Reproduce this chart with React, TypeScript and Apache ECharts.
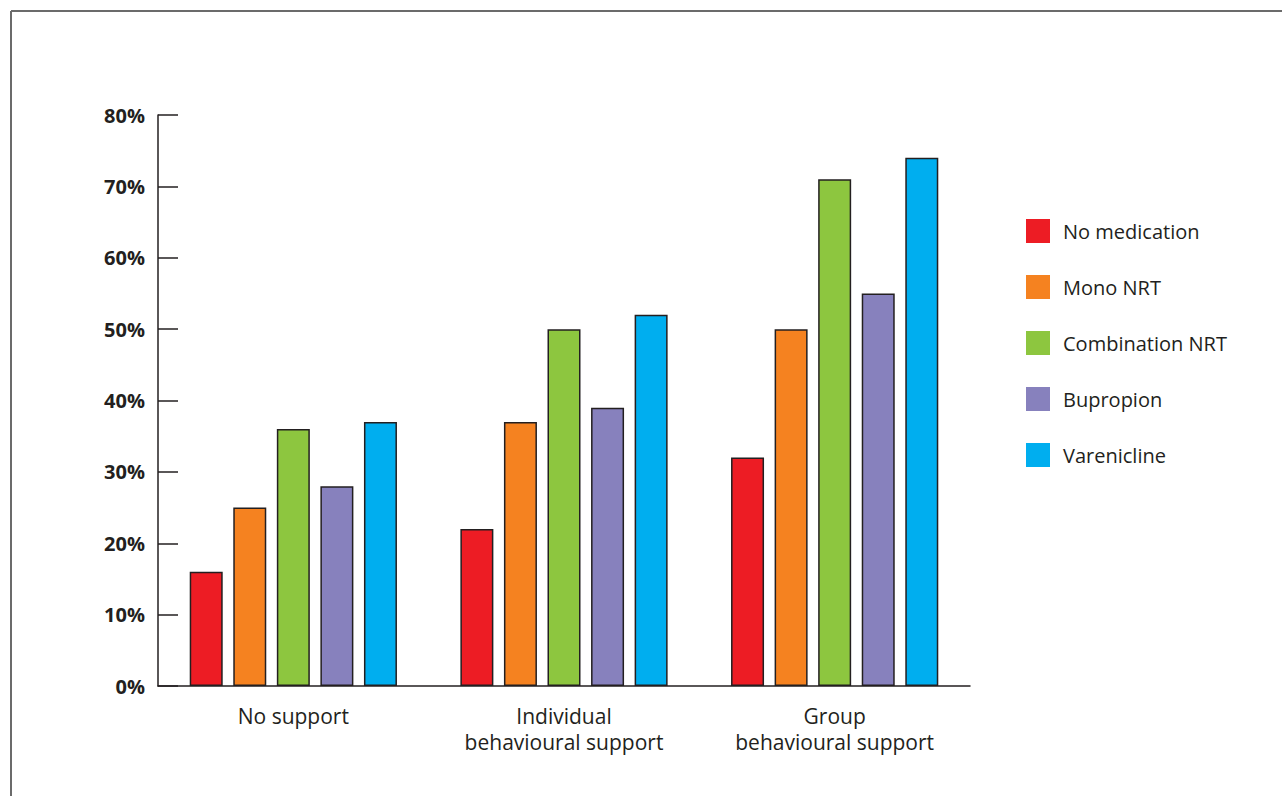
import React, { useEffect, useRef } from "react";
import * as echarts from "echarts";

const categories = ["No support", "Individual\nbehavioural support", "Group\nbehavioural support"];
const seriesNames = ["No medication", "Mono NRT", "Combination NRT", "Bupropion", "Varenicline"];
const noMedication = [16, 22, 32];
const monoNRT = [25, 37, 50];
const combinationNRT = [36, 50, 71];
const bupropion = [28, 39, 55];
const varenicline = [37, 52, 74];
const seriesValues = [noMedication, monoNRT, combinationNRT, bupropion, varenicline];
const colors = ["#ED1C24", "#F58220", "#8DC63F", "#8781BD", "#00AEEF"];

export default function App() {
  const ref = useRef<HTMLDivElement>(null);
  useEffect(() => {
    const chart = echarts.init(ref.current!, null, { renderer: "svg" });
    const font = "'Open Sans', 'Noto Sans', sans-serif";
    chart.setOption({
      animation: false,
      backgroundColor: "#ffffff",
      textStyle: { fontFamily: font },
      graphic: [
        { type: "line", shape: { x1: 11, y1: 11, x2: 1282, y2: 11 }, style: { stroke: "#6b6b6b", lineWidth: 2 } },
        { type: "line", shape: { x1: 11, y1: 11, x2: 11, y2: 796 }, style: { stroke: "#6b6b6b", lineWidth: 2 } },
      ],
      legend: {
        orient: "vertical",
        left: 1026,
        top: 219,
        padding: 0,
        itemWidth: 24,
        itemHeight: 24,
        itemGap: 32,
        icon: "rect",
        data: seriesNames,
        itemStyle: { borderWidth: 0 },
        textStyle: { fontSize: 20, lineHeight: 24, color: "#231F20", fontFamily: font, padding: [0, 0, 0, 8] },
      },
      grid: { left: 158, right: 312, top: 115, bottom: 110, containLabel: false },
      xAxis: {
        type: "category",
        data: categories,
        axisLine: { lineStyle: { color: "#231F20", width: 1.5 } },
        axisTick: { inside: true, length: 14, alignWithLabel: false, lineStyle: { color: "#231F20", width: 1.5 } },
        axisLabel: { fontSize: 21, color: "#231F20", lineHeight: 26, margin: 17, fontFamily: font, interval: 0 },
      },
      yAxis: {
        type: "value",
        min: 0,
        max: 80,
        interval: 10,
        splitLine: { show: false },
        axisLine: { show: true, lineStyle: { color: "#231F20", width: 1.5 } },
        axisTick: { show: true, inside: true, length: 20, lineStyle: { color: "#231F20", width: 1.5 } },
        axisLabel: { formatter: "{value}%", fontSize: 20, fontWeight: "bold", color: "#231F20", margin: 13, fontFamily: font },
      },
      series: seriesNames.map((name, i) => ({
        name,
        type: "bar",
        data: seriesValues[i],
        barWidth: 33,
        barGap: "32%",
        itemStyle: { color: colors[i], borderColor: "#231F20", borderWidth: 1.5 },
      })),
    });
    return () => chart.dispose();
  }, []);
  return <div ref={ref} style={{ position: "fixed", left: 0, top: 0, width: 1282, height: 796 }} />;
}
